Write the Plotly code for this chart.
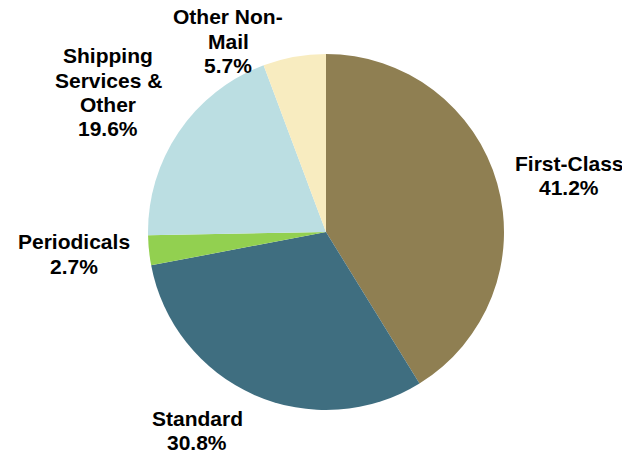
import plotly.graph_objects as go

# Revenue share by mail class
categories = ["First-Class", "Standard", "Periodicals", "Shipping Services & Other", "Other Non-Mail"]
shares = [41.2, 30.8, 2.7, 19.6, 5.7]
label_lines = [
    ["First-Class"],
    ["Standard"],
    ["Periodicals"],
    ["Shipping", "Services &", "Other"],
    ["Other Non-", "Mail"],
]
colors = ["#8F7F52", "#3F6E80", "#92D050", "#BBDEE2", "#F8ECC0"]

# label anchor: x center and first line y (pixels from top of the page)
label_pos = [(569, 163), (197, 418), (74, 242), (108, 56), (228, 17)]
LINE_H = 24.3

# the page body adds an 8px margin, so work in page pixels and shift
OFF = 8
W, H = 630 - OFF, 454 - OFF


def px(x):
    return (x - OFF) / W


def py(y):
    return 1 - (y - OFF) / H


fig = go.Figure(go.Pie(
    labels=categories,
    values=shares,
    sort=False,
    direction="clockwise",
    rotation=0,
    marker=dict(colors=colors, line=dict(width=0)),
    textinfo="none",
    hoverinfo="label+percent",
    domain=dict(x=[px(148), px(504)], y=[py(410), py(54)]),
    showlegend=False,
))

for lines, val, (x0, y0) in zip(label_lines, shares, label_pos):
    for i, line in enumerate(lines + [f"{val:.1f}%"]):
        fig.add_annotation(
            x=px(x0), y=py(y0 + i * LINE_H), xref="paper", yref="paper",
            text=f"<b>{line}</b>",
            showarrow=False, xanchor="center", yanchor="middle",
            font=dict(family="Arial, Liberation Sans", size=21, color="black"),
        )

fig.update_layout(
    width=W, height=H,
    margin=dict(l=0, r=0, t=0, b=0),
    paper_bgcolor="white",
    plot_bgcolor="white",
)
fig.write_html("out.html")
